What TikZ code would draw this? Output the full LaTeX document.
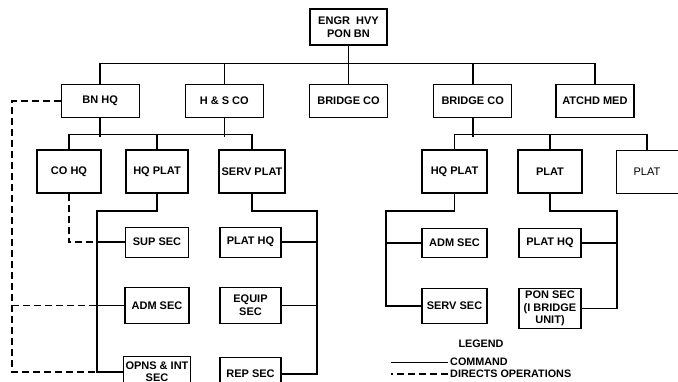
\documentclass[tikz,border=0pt]{standalone}
\usepackage{fontspec}
\setmainfont{Liberation Sans}
\usetikzlibrary{positioning}

\begin{document}
\begin{tikzpicture}[x=1pt, y=-1pt,
      unit/.style={rectangle, draw, line width=1.2pt, align=center, inner sep=2pt,
                   minimum height=33pt, minimum width=78pt,
                   font=\fontsize{11}{12.5}\selectfont\bfseries},
      sec/.style={unit, minimum height=30pt, minimum width=64pt},
      key/.style={inner sep=2pt, font=\fontsize{10.8}{12.5}\selectfont\bfseries},
      cmd/.style={line width=1.6pt},
      ops/.style={line width=1.6pt, dash pattern=on 7pt off 4pt}]
    \useasboundingbox (0,0) rectangle (678,381);
    % battalion and companies
    \node[unit, minimum height=36pt, minimum width=77pt] (bn) at (348.5,27) {ENGR\ \ HVY\\PON BN};
    \node[unit, below=38pt of bn] (braa) {BRIDGE CO};
    \node[unit, left=45pt of braa] (hs) {H \& S CO};
    \node[unit, left=45pt of hs] (bnhq) {BN HQ};
    \node[unit, right=45pt of braa] (brb) {BRIDGE CO};
    \node[unit, right=43pt of brb] (med) {ATCHD MED};
    % platoons
    \node[sec, minimum height=43pt, minimum width=64pt] (cohq) at (69,171.5) {CO HQ};
    \node[sec, minimum height=43pt, minimum width=62pt] (hqplat) at (157,171.5) {HQ PLAT};
    \node[sec, minimum height=43pt, minimum width=66pt] (servplat) at (252,171.5) {SERV PLAT};
    \node[sec, minimum height=43pt, minimum width=65pt] (hqplatb) at (454.5,171.5) {HQ PLAT};
    \node[sec, minimum height=43pt, minimum width=64pt] (platb) at (550,171.5) {PLAT};
    \node[sec, minimum height=43pt, minimum width=62pt, line width=0.8pt,
          font=\fontsize{11}{12.5}\selectfont] (platc) at (647,171.5) {PLAT};
    % sections
    \node[sec, below=33pt of hqplat, minimum width=63pt] (supsec) {SUP SEC};
    \node[sec, below=29pt of supsec, minimum height=36pt] (admsec) {ADM SEC};
    \node[sec, below=32pt of admsec, minimum height=31pt, minimum width=67pt,
          font=\fontsize{11}{12}\selectfont\bfseries] (opns) {OPNS \& INT\\SEC};
    \node[sec, below=33pt of servplat, xshift=-1.5pt, minimum width=61pt] (plathq) {PLAT HQ};
    \node[sec, below=29pt of plathq, minimum height=36pt, minimum width=61pt] (equip) {EQUIP\\SEC};
    \node[sec, below=33pt of equip, minimum height=33pt, minimum width=61pt] (rep) {REP SEC};
    \node[sec, below=34pt of hqplatb, minimum height=29pt, minimum width=65pt] (admsecb) {ADM SEC};
    \node[sec, below=30pt of admsecb, minimum height=35pt, minimum width=65pt] (servsec) {SERV SEC};
    \node[sec, below=34pt of platb, minimum height=29pt, minimum width=62pt] (plathqb) {PLAT HQ};
    \node[sec, below=30pt of plathqb, minimum height=40pt, minimum width=62pt] (ponsec) {PON SEC\\(I BRIDGE\\UNIT)};
    % command lines
    \draw[cmd] (bnhq.north) -- ++(0,20pt) -| (med.north);
    \draw[cmd] (bn.south) -- (braa.north);
    \foreach \u in {hs, brb} \draw[cmd] (\u.north) -- ++(0,20pt);
    \draw[cmd] (cohq.north) -- ++(0,15pt) -| (servplat.north);
    \draw[cmd] (hqplatb.north) -- ++(0,15pt) -| (platc.north);
    \foreach \u in {bnhq, hs, brb} \draw[cmd] (\u.south) -- ++(0,-19pt);
    \foreach \u in {hqplat, platb} \draw[cmd] (\u.north) -- ++(0,15pt);
    \coordinate (spl) at (97,211);
    \coordinate (sps) at (317,211);
    \coordinate (sph) at (386,211);
    \coordinate (spp) at (617,211);
    \draw[cmd] (hqplat.south) |- (spl) |- (opns.west);
    \draw[cmd] (servplat.south) |- (sps) |- (rep.east);
    \draw[cmd] (hqplatb.south) |- (sph) |- (servsec.west);
    \draw[cmd] (platb.south) |- (spp) |- (ponsec.east);
    \foreach \s in {supsec, admsec} \draw[cmd] (\s.west) -- (\s.west -| spl);
    \foreach \s in {plathq, equip} \draw[cmd] (\s.east) -- (\s.east -| sps);
    \draw[cmd] (admsecb.west) -- (admsecb.west -| sph);
    \draw[cmd] (plathqb.east) -- (plathqb.east -| spp);
    % operations lines
    \coordinate (opsl) at (12,0);
    \draw[ops] (bnhq.west) -| (opsl |- opns.west) -- (opns.west -| spl);
    \draw[ops] (opsl |- admsec.west) -- (admsec.west -| spl);
    \draw[ops] (cohq.south) |- (supsec.west -| spl);
    % legend
    \node[key] (legend) at (481,344) {LEGEND};
    \node[key, anchor=west] (cmdkey) at (448,362) {COMMAND};
    \node[key, anchor=west] (opskey) at (448,374) {DIRECTS OPERATIONS};
    \draw[line width=1pt] (cmdkey.west) -- ++(-57pt,0);
    \draw[ops, line width=1.3pt] (opskey.west) -- ++(-57pt,0);
  \end{tikzpicture}
\end{document}
